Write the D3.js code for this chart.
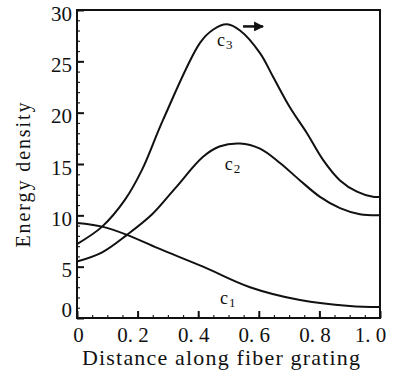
<!DOCTYPE html>
<html>
<head>
<meta charset="utf-8">
<script src="https://cdn.jsdelivr.net/npm/d3@7"></script>
<style>
  body { margin: 0; background: #fff; }
  svg text { font-family: "Liberation Serif", "DejaVu Serif", serif; fill: #111; }
</style>
</head>
<body>
<div id="chart"></div>
<script>
// values (distance 0..1, energy density)
const distC1 = [0, 0.083, 0.165, 0.267, 0.416, 0.571, 0.736, 0.9, 1.0];
const energyC1 = [9.25, 8.9, 8.1, 6.8, 5.0, 3.0, 1.75, 1.17, 1.07];

const distC2 = [0, 0.083, 0.165, 0.248, 0.323, 0.416, 0.47, 0.538, 0.604, 0.67, 0.736, 0.802, 0.868, 0.934, 1.0];
const energyC2 = [5.5, 6.4, 8.1, 10.1, 12.6, 15.7, 16.7, 17.0, 16.5, 15.1, 13.4, 11.8, 10.7, 10.1, 10.0];

const distC3 = [0, 0.083, 0.158, 0.214, 0.284, 0.406, 0.45, 0.495, 0.538, 0.604, 0.647, 0.703, 0.759, 0.812, 0.868, 0.924, 0.977, 1.0];
const energyC3 = [7.2, 8.9, 11.5, 14.4, 19.3, 26.8, 28.1, 28.6, 28.0, 25.8, 23.5, 20.5, 18.0, 15.4, 13.4, 12.3, 11.8, 11.8];

const xTicks = [0, 0.2, 0.4, 0.6, 0.8, 1.0];
const yTicks = [0, 5, 10, 15, 20, 25, 30];
const curveNames = ["1", "2", "3"];

const margin = { top: 10, right: 19, bottom: 53, left: 77 };
const width = 399 - margin.left - margin.right,
  height = 371 - margin.top - margin.bottom;

const svg = d3.select("#chart")
  .append("svg")
  .attr("width", 399)
  .attr("height", 371)
  .append("g")
  .attr("transform", "translate(" + margin.left + "," + margin.top + ")");

const x = d3.scaleLinear().domain([0, 1]).range([0, width]);
const y = d3.scaleLinear().domain([0, 30]).range([height, 0]);

// minor ticks (inward)
svg.append("g")
  .call(d3.axisLeft(y).tickValues(d3.range(0, 31, 1)).tickSize(-3).tickFormat(""))
  .call(g => g.select(".domain").remove())
  .selectAll("line").attr("stroke", "#222").attr("stroke-width", 1.2);
svg.append("g")
  .attr("transform", "translate(0," + height + ")")
  .call(d3.axisBottom(x).tickValues(d3.range(0, 1.001, 0.05)).tickSize(-3).tickFormat(""))
  .call(g => g.select(".domain").remove())
  .selectAll("line").attr("stroke", "#222").attr("stroke-width", 1.2);

// major ticks + labels
const xAxis = svg.append("g")
  .attr("transform", "translate(0," + height + ")")
  .call(d3.axisBottom(x).tickValues(xTicks).tickSize(-7).tickPadding(0)
    .tickFormat(d => d === 0 ? "0" : d3.format(".1f")(d).replace(".", ". ")));
xAxis.attr("font-family", null);
xAxis.select(".domain").remove();
xAxis.selectAll("line").attr("stroke", "#111").attr("stroke-width", 2);
xAxis.selectAll("text")
  .attr("font-size", 21)
  .attr("y", 24)
  .attr("dy", 0)
  .attr("dx", d => d === 0 ? 1 : (d === 1 ? -10 : -5));

const yAxis = svg.append("g")
  .call(d3.axisLeft(y).tickValues(yTicks).tickSize(-7).tickPadding(5)
    .tickFormat(d3.format("d")));
yAxis.attr("font-family", null);
yAxis.select(".domain").remove();
yAxis.selectAll("line").attr("stroke", "#111").attr("stroke-width", 2);
yAxis.selectAll("text")
  .attr("font-size", 21)
  .attr("x", -5)
  .attr("dy", d => d === 0 ? "-0.05em" : "0.48em");

// frame
svg.append("rect")
  .attr("width", width)
  .attr("height", height)
  .attr("fill", "none")
  .attr("stroke", "#111")
  .attr("stroke-width", 2);

// curves
const line = d3.line()
  .x(d => x(d[0]))
  .y(d => y(d[1]))
  .curve(d3.curveCatmullRom.alpha(0.5));

const series = [
  d3.zip(distC1, energyC1),
  d3.zip(distC2, energyC2),
  d3.zip(distC3, energyC3)
];

svg.selectAll(".curve")
  .data(series)
  .enter()
  .append("path")
  .attr("class", "curve")
  .attr("d", line)
  .attr("fill", "none")
  .attr("stroke", "#111")
  .attr("stroke-width", 2);

// curve labels c1, c2, c3
const labelPos = [[0.472, 1.36], [0.488, 14.4], [0.462, 26.5]];
curveNames.forEach((n, i) => {
  const t = svg.append("text")
    .attr("x", x(labelPos[i][0]))
    .attr("y", y(labelPos[i][1]))
    .attr("font-size", 18);
  t.append("tspan").text("c");
  t.append("tspan").attr("font-size", 13).attr("dx", 1).attr("dy", 3).text(n);
});

// arrow next to c3 peak
svg.append("defs").append("marker")
  .attr("id", "head")
  .attr("viewBox", "0 0 10 10")
  .attr("refX", 9).attr("refY", 5)
  .attr("markerWidth", 4).attr("markerHeight", 4)
  .attr("orient", "auto")
  .append("path")
  .attr("d", "M0,0L10,5L0,10z")
  .attr("fill", "#111");
svg.append("line")
  .attr("x1", x(0.548)).attr("y1", y(28.4))
  .attr("x2", x(0.614)).attr("y2", y(28.4))
  .attr("stroke", "#111")
  .attr("stroke-width", 2.5)
  .attr("marker-end", "url(#head)");

// axis titles
svg.append("text")
  .attr("x", 82 - margin.left)
  .attr("y", 365 - margin.top)
  .attr("font-size", 22)
  .attr("textLength", 278)
  .attr("lengthAdjust", "spacing")
  .text("Distance along fiber grating");

svg.append("text")
  .attr("transform", "translate(" + (30 - margin.left) + "," + (175 - margin.top) + ") rotate(-90)")
  .attr("text-anchor", "middle")
  .attr("font-size", 20)
  .attr("textLength", 145)
  .attr("lengthAdjust", "spacing")
  .text("Energy density");
</script>
</body>
</html>
